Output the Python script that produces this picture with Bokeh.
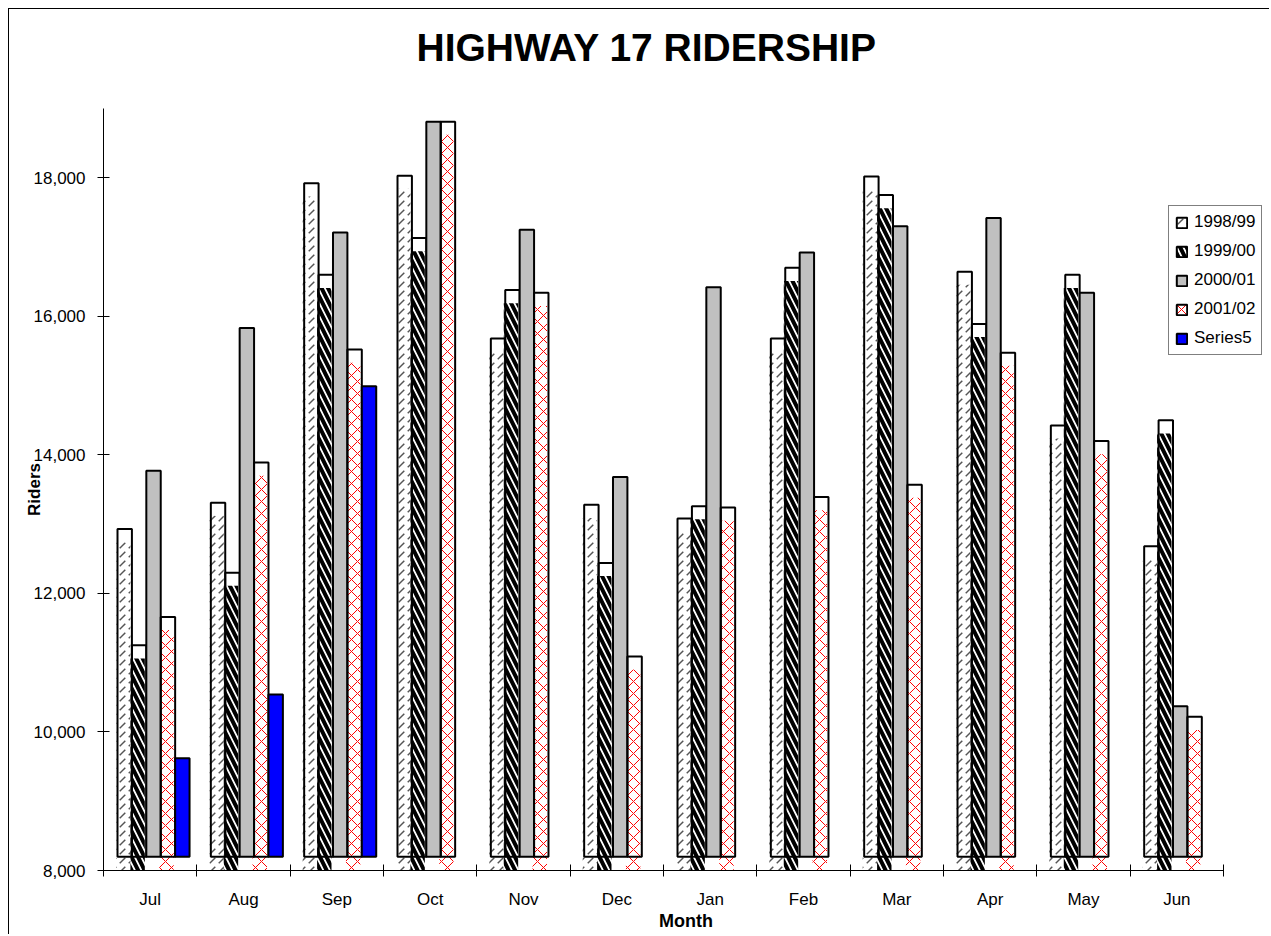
import numpy as np
from bokeh.plotting import figure
from bokeh.models import FixedTicker, NumeralTickFormatter, Legend, LegendItem, Range1d, Title
from bokeh.embed import file_html
from bokeh.resources import INLINE

months = ["Jul", "Aug", "Sep", "Oct", "Nov", "Dec", "Jan", "Feb", "Mar", "Apr", "May", "Jun"]
s1998 = [12930, 13310, 17920, 18030, 15680, 13280, 13080, 15680, 18020, 16645, 14425, 12680]
s1999 = [11250, 12300, 16600, 17130, 16380, 12440, 13260, 16700, 17750, 15890, 16600, 14500]
s2000 = [13770, 15830, 17210, 18810, 17250, 13680, 16420, 16920, 17300, 17420, 16340, 10370]
s2001 = [11660, 13890, 15520, 18810, 16340, 11090, 13240, 13390, 13570, 15475, 14200, 10220]
s5 = [9620, 10540, 14990]
y_ticks = [8000, 10000, 12000, 14000, 16000, 18000]

FONT = "Liberation Sans"
BAR_W = 0.1544
GROUP_C = 0.536
BASE = 8200
Y0 = 8000
N_CAT = len(months)

p = figure(width=1261, height=926, x_range=Range1d(0, 12.482), y_range=Range1d(8000, 19000),
           output_backend="svg", toolbar_location=None, title=None,
           min_border_left=94, min_border_right=2, min_border_top=99, min_border_bottom=65)
p.styles = {"margin-left": "8px", "margin-top": "8px",
            "border-left": "1px solid black", "border-top": "1px solid black"}
p.outline_line_color = None
p.xgrid.visible = False
p.ygrid.visible = False
p.background_fill_color = "white"
p.border_fill_color = "white"

spacer = Title(text=" ", text_font=FONT, text_font_size="34px", standoff=0)
p.add_layout(spacer, "above")
main_title = Title(text="HIGHWAY 17 RIDERSHIP", align="left", offset=313,
                   text_font=FONT, text_font_size="39px", text_font_style="bold",
                   text_color="black", standoff=0)
p.add_layout(main_title, "above")

def xs(n, k, shift=0.0):
    return np.arange(n) + GROUP_C + (k - 2) * BAR_W + shift

series = [
    ("1998/99", s1998, dict(hatch_pattern=",", hatch_color="#555555", hatch_weight=1.5, hatch_scale=9), None),
    ("1999/00", s1999, dict(hatch_pattern="\\", hatch_color="black", hatch_weight=4, hatch_scale=13), None),
    ("2000/01", s2000, None, "#C0C0C0"),
    ("2001/02", s2001, dict(hatch_pattern="x", hatch_color="red", hatch_weight=1, hatch_scale=12), None),
    ("Series5", s5, None, "#0000FF"),
]

items = []
for k, (name, vals, hatch, fill) in enumerate(series):
    vals = np.array(vals, dtype=float)
    n = len(vals)
    rends = []
    if hatch is not None:
        r_h = p.vbar(x=xs(n, k, -0.016), width=BAR_W, bottom=Y0, top=vals - 190,
                     fill_color=None, line_color=None, **hatch)
        rends.append(r_h)
    items.append((name, vals, n, k, fill, rends))

legend_items = []
for name, vals, n, k, fill, rends in items:
    r_o = p.vbar(x=xs(n, k), width=BAR_W, bottom=BASE, top=vals,
                 fill_color=fill, line_color="black", line_width=2)
    legend_items.append(LegendItem(label=name, renderers=rends + [r_o]))

# axes
xa = p.xaxis[0]
xa.bounds = (0, N_CAT)
xa.ticker = FixedTicker(ticks=[i + 0.5 for i in range(N_CAT)], minor_ticks=list(range(N_CAT + 1)))
xa.major_label_overrides = {i + 0.5: m for i, m in enumerate(months)}
xa.major_tick_in = 0
xa.major_tick_out = 0
xa.minor_tick_in = 6
xa.minor_tick_out = 6
xa.minor_tick_line_color = "black"
xa.axis_line_color = "black"
xa.major_label_text_font = FONT
xa.major_label_text_font_size = "17px"
xa.major_label_text_color = "black"
xa.major_label_standoff = 13
xa.axis_label = "Month"
xa.axis_label_text_font = FONT
xa.axis_label_text_font_size = "18px"
xa.axis_label_text_font_style = "bold"
xa.axis_label_text_color = "black"
xa.axis_label_standoff = -1

ya = p.yaxis[0]
ya.ticker = FixedTicker(ticks=y_ticks, minor_ticks=[])
ya.formatter = NumeralTickFormatter(format="0,0")
ya.major_tick_in = 6
ya.major_tick_out = 6
ya.major_tick_line_color = "black"
ya.axis_line_color = "black"
ya.major_label_text_font = FONT
ya.major_label_text_font_size = "17px"
ya.major_label_text_color = "black"
ya.major_label_standoff = 12
ya.axis_label = "Riders"
ya.axis_label_text_font = FONT
ya.axis_label_text_font_size = "17px"
ya.axis_label_text_font_style = "bold"
ya.axis_label_text_color = "black"
ya.axis_label_standoff = -13

legend = Legend(items=legend_items, location=(1065, 515), orientation="vertical",
                glyph_width=13, glyph_height=13, spacing=9, padding=6, label_standoff=6,
                label_text_font=FONT, label_text_font_size="17px", label_text_color="black",
                border_line_color="black", border_line_width=1,
                background_fill_color="white", background_fill_alpha=1.0, margin=0)
p.add_layout(legend, "center")

open("out.html", "w").write(file_html(p, INLINE))
